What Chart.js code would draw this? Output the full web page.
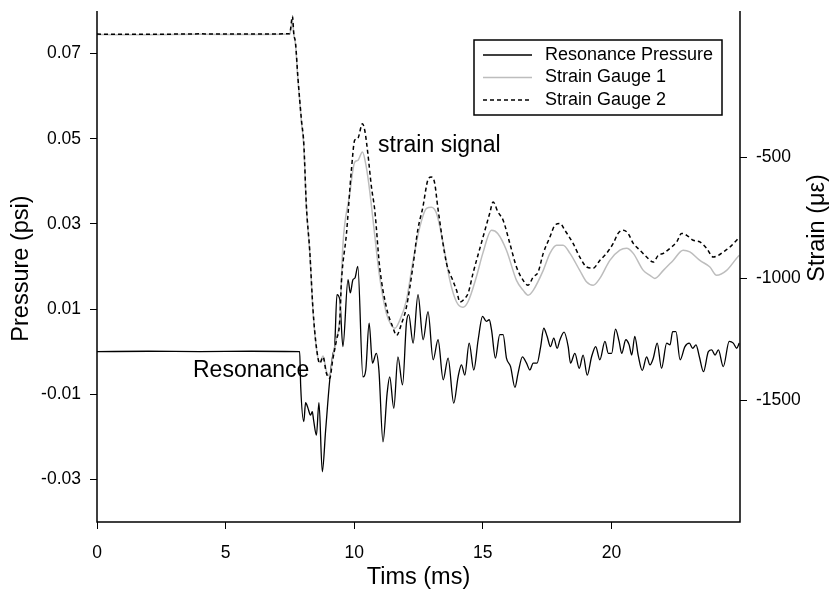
<!DOCTYPE html>
<html>
<head>
<meta charset="utf-8">
<script src="https://cdn.jsdelivr.net/npm/chart.js@4"></script>
<style>
  body { margin: 0; background: #fff; }
  #wrap { width: 832px; height: 595px; }
</style>
</head>
<body>
<div id="wrap"><canvas id="chart" width="832" height="595"></canvas></div>
<script>
// axis ticks
const timeTicks = [0, 5, 10, 15, 20];
const pressureTicks = [-0.03, -0.01, 0.01, 0.03, 0.05, 0.07];
const strainTicks = [-1500, -1000, -500];

// Resonance Pressure (psi) vs time (ms)
const resTime = [0, 2, 4, 6, 7.88, 7.92, 8.04, 8.11, 8.20, 8.30, 8.37, 8.42, 8.53, 8.63, 8.76, 8.89, 9.05, 9.18, 9.24, 9.33,
  9.44, 9.56, 9.76, 9.85, 9.95, 10.03, 10.14, 10.34, 10.45, 10.58, 10.71, 10.86, 10.96, 11.12, 11.28, 11.38, 11.54, 11.70, 11.88, 12.03,
  12.12, 12.29, 12.48, 12.68, 12.87, 13.07, 13.26, 13.46, 13.65, 13.87, 14.04, 14.17, 14.30, 14.47, 14.65, 14.82, 14.99, 15.14, 15.25, 15.34,
  15.49, 15.66, 15.79, 15.92, 16.08, 16.25, 16.37, 16.54, 16.70, 16.83, 16.96, 17.11, 17.25, 17.37, 17.50, 17.63, 17.76, 17.89, 18.00, 18.16,
  18.32, 18.41, 18.58, 18.75, 18.90, 19.06, 19.23, 19.39, 19.55, 19.75, 19.88, 20.01, 20.16, 20.30, 20.40, 20.56, 20.69, 20.79, 20.91, 21.04,
  21.20, 21.37, 21.50, 21.63, 21.78, 21.95, 22.15, 22.28, 22.38, 22.51, 22.67, 22.86, 23.03, 23.16, 23.29, 23.42, 23.58, 23.77, 23.90, 24.03,
  24.16, 24.35, 24.58, 24.74, 24.87, 24.97];
const resPressure = [0, 0.0001, 0, 0.0001, 0, -0.0082, -0.0164, -0.0120, -0.0132, -0.0149, -0.0141, -0.0160, -0.0196, -0.0120, -0.0282, -0.0184, -0.0066, -0.0004, 0.0012, 0.0134,
  0.0122, 0.0012, 0.0169, 0.0138, 0.0169, 0.0173, 0.0200, -0.0059, -0.0043, 0.0067, -0.0027, -0.0004, -0.0043, -0.0212, -0.0098, -0.0059, -0.0133, -0.0012, -0.0078, 0.0067,
  0.0087, 0.0020, 0.0134, 0.0028, 0.0094, -0.0019, 0.0028, -0.0066, -0.0015, -0.0121, -0.0059, -0.0031, -0.0055, 0.0020, -0.0043, 0.0028, 0.0083, 0.0071, 0.0075, 0.0051,
  -0.0015, 0.0040, 0.0040, -0.0015, -0.0035, -0.0084, -0.0051, -0.0012, -0.0027, -0.0043, -0.0027, -0.0027, 0.0012, 0.0055, 0.0036, 0.0012, 0.0032, 0.0008, 0.0028, 0.0046,
  0.0012, -0.0027, -0.0004, -0.0039, -0.0008, -0.0055, -0.0012, 0.0012, -0.0019, 0.0024, -0.0004, -0.0004, 0.0053, 0.0024, -0.0004, 0.0028, 0.0016, -0.0008, 0.0036, -0.0008,
  -0.0044, -0.0012, -0.0031, -0.0015, 0.0020, -0.0039, 0.0020, 0.0016, 0.0047, 0.0047, -0.0019, 0.0012, 0.0020, 0.0008, 0.0016, -0.0012, -0.0047, 0.0000, 0.0004, -0.0008,
  0.0004, -0.0035, 0.0024, 0.0020, 0.0008, 0.0020];

// Strain Gauge 1 (microstrain)
const g1Time = [0, 2, 4, 6, 7.49, 7.60, 7.65, 7.72, 7.81, 7.95, 8.04, 8.14, 8.27, 8.40, 8.53, 8.66, 8.79, 8.92, 9.05, 9.16,
  9.31, 9.44, 9.56, 9.82, 10.02, 10.14, 10.32, 10.47, 10.60, 10.72, 10.99, 11.25, 11.45, 11.58, 11.77, 12.03, 12.29, 12.55, 12.81, 13.00,
  13.20, 13.46, 13.72, 13.98, 14.23, 14.42, 14.75, 15.00, 15.34, 15.58, 15.92, 16.31, 16.57, 16.76, 16.96, 17.35, 17.61, 17.87, 18.12, 18.39,
  18.77, 19.04, 19.29, 19.55, 19.94, 20.33, 20.59, 20.85, 21.24, 21.50, 21.69, 22.02, 22.40, 22.79, 23.05, 23.44, 23.83, 24.09, 24.48, 24.87,
  24.97];
const g1Strain = [3, 2, 4, 3, 5, 60, 5, -40, -180, -360, -455, -705, -890, -1135, -1285, -1345, -1318, -1380, -1400, -1330,
  -1245, -1160, -863, -657, -521, -514, -479, -541, -637, -747, -993, -1142, -1192, -1204, -1171, -1089, -925, -788, -711, -706,
  -731, -855, -1007, -1096, -1117, -1096, -993, -896, -801, -814, -883, -1007, -1048, -1068, -1048, -966, -896, -863, -863, -896,
  -966, -1014, -1027, -999, -925, -883, -875, -896, -966, -986, -999, -966, -925, -883, -890, -925, -952, -986, -966, -916,
  -904];

// Strain Gauge 2 (microstrain)
const g2Time = [0, 2, 4, 6, 7.49, 7.60, 7.65, 7.72, 7.81, 7.95, 8.04, 8.14, 8.27, 8.40, 8.53, 8.66, 8.79, 8.92, 9.05, 9.16,
  9.31, 9.44, 9.50, 9.70, 9.89, 10.02, 10.14, 10.32, 10.41, 10.53, 10.67, 10.80, 10.99, 11.25, 11.50, 11.65, 11.84, 12.03, 12.28, 12.47,
  12.67, 12.86, 13.00, 13.13, 13.25, 13.59, 13.83, 13.98, 14.11, 14.30, 14.43, 14.62, 15.01, 15.27, 15.40, 15.59, 15.79, 16.05, 16.31, 16.57,
  16.76, 16.96, 17.15, 17.35, 17.61, 17.80, 18.00, 18.19, 18.51, 18.77, 19.04, 19.29, 19.55, 19.81, 20.07, 20.26, 20.46, 20.65, 20.85, 21.11,
  21.37, 21.63, 21.82, 22.02, 22.28, 22.54, 22.73, 22.93, 23.18, 23.44, 23.70, 23.96, 24.16, 24.35, 24.61, 24.87, 24.97];
const g2Strain = [5, 4, 6, 5, 7, 78, 8, -33, -171, -349, -444, -699, -883, -1130, -1281, -1348, -1322, -1389, -1410, -1336,
  -1253, -1171, -1019, -814, -555, -431, -423, -363, -390, -485, -623, -719, -952, -1117, -1199, -1233, -1185, -1117, -952, -801,
  -706, -596, -582, -608, -707, -937, -1006, -1048, -1096, -1081, -1060, -978, -829, -731, -685, -726, -760, -855, -952, -1007,
  -1027, -993, -973, -896, -829, -781, -773, -801, -855, -911, -952, -957, -925, -896, -855, -814, -801, -814, -855, -883,
  -911, -932, -904, -896, -875, -849, -814, -822, -842, -849, -875, -911, -904, -890, -870, -842, -830];

const FONT = '"Liberation Sans", Arial, sans-serif';

function pairs(xs, ys) {
    return xs.map((x, i) => ({ x: x, y: ys[i] }));
}

const datasets = [
    {
        label: 'Strain Gauge 2',
        data: pairs(g2Time, g2Strain),
        yAxisID: 'y2',
        borderColor: '#000',
        borderWidth: 1.5,
        borderDash: [4, 3],
        order: 0
    },
    {
        label: 'Strain Gauge 1',
        data: pairs(g1Time, g1Strain),
        yAxisID: 'y2',
        borderColor: '#bdbdbd',
        borderWidth: 1.5,
        order: 1
    },
    {
        label: 'Resonance Pressure',
        data: pairs(resTime, resPressure),
        yAxisID: 'y',
        borderColor: '#000',
        borderWidth: 1.3,
        order: 2
    }
];

// axis lines, titles, annotations and the boxed legend
const extras = {
    id: 'extras',
    afterDraw(chart) {
        const ctx = chart.ctx;
        const area = chart.chartArea;
        ctx.save();

        // nothing hangs below the right end of the time axis
        ctx.fillStyle = '#fff';
        ctx.fillRect(area.right - 3, area.bottom + 1, 8, 12);

        ctx.strokeStyle = '#000';
        ctx.lineWidth = 1.5;
        ctx.beginPath();
        ctx.moveTo(area.left, area.top);
        ctx.lineTo(area.left, area.bottom);
        ctx.lineTo(area.right, area.bottom);
        ctx.lineTo(area.right, area.top);
        ctx.stroke();

        ctx.fillStyle = '#000';
        ctx.font = '23.5px ' + FONT;
        ctx.textAlign = 'center';
        ctx.textBaseline = 'middle';
        ctx.fillText('Tims (ms)', (area.left + area.right) / 2, 578);

        ctx.save();
        ctx.translate(22, (area.top + area.bottom) / 2 + 2);
        ctx.rotate(-Math.PI / 2);
        ctx.fillText('Pressure (psi)', 0, 0);
        ctx.restore();

        ctx.save();
        ctx.translate(818, 228);
        ctx.rotate(-Math.PI / 2);
        ctx.fillText('Strain (\u03bc\u03b5)', 0, 0);
        ctx.restore();

        ctx.font = '23px ' + FONT;
        ctx.textAlign = 'left';
        ctx.fillText('strain signal', 378, 146);
        ctx.fillText('Resonance', 193, 371);

        // legend
        ctx.fillStyle = '#fff';
        ctx.fillRect(474, 40, 248, 75);
        ctx.strokeStyle = '#000';
        ctx.lineWidth = 1.5;
        ctx.strokeRect(474, 40, 248, 75);
        const rows = [datasets[2], datasets[1], datasets[0]];
        ctx.font = '18px ' + FONT;
        rows.forEach((ds, i) => {
            const y = 55 + i * 22.5;
            ctx.beginPath();
            ctx.setLineDash(ds.borderDash || []);
            ctx.strokeStyle = ds.borderColor;
            ctx.lineWidth = ds.borderWidth;
            ctx.moveTo(483, y);
            ctx.lineTo(532, y);
            ctx.stroke();
            ctx.setLineDash([]);
            ctx.fillStyle = '#000';
            ctx.fillText(ds.label, 545, y);
        });
        ctx.restore();
    }
};

// tick marks only at the listed values
function tickColor(list) {
    return c => (c.tick && list.includes(c.tick.value)) ? '#000' : 'rgba(0,0,0,0)';
}

function axisStyle(list, extra) {
    return Object.assign({
        grid: { drawOnChartArea: false, drawTicks: true, tickLength: 7, color: tickColor(list), tickColor: tickColor(list), lineWidth: 1 },
        border: { display: false },
        afterBuildTicks: s => { s.ticks = list.map(v => ({ value: v })); }
    }, extra);
}

// drop the label padding so the plot box sits where the reference has it
function fixBox(s, w, h) {
    if (w) s.width = w;
    if (h) s.height = h;
    s.paddingTop = 0;
    s.paddingBottom = 0;
    s.paddingLeft = 0;
    s.paddingRight = 0;
}

new Chart(document.getElementById('chart').getContext('2d'), {
    type: 'line',
    data: { datasets: datasets },
    options: {
        responsive: false,
        animation: false,
        layout: { padding: { top: 11, left: 0, right: 0, bottom: 0 } },
        elements: {
            point: { radius: 0 },
            line: { cubicInterpolationMode: 'monotone', fill: false }
        },
        plugins: {
            legend: { display: false },
            tooltip: { enabled: false }
        },
        scales: {
            x: axisStyle(timeTicks, {
                type: 'linear',
                min: 0,
                max: 25,
                afterFit: s => fixBox(s, 0, 73),
                ticks: { color: '#000', font: { family: FONT, size: 17.5 }, padding: 14, maxRotation: 0, callback: v => String(v) }
            }),
            y: axisStyle(pressureTicks, {
                position: 'left',
                min: -0.04,
                max: 0.08,
                afterFit: s => fixBox(s, 97, 0),
                ticks: { color: '#000', font: { family: FONT, size: 17.5 }, padding: 9, callback: v => v.toFixed(2) }
            }),
            y2: axisStyle(strainTicks, {
                position: 'right',
                min: -2000,
                max: 100,
                afterFit: s => fixBox(s, 92, 0),
                ticks: { color: '#000', font: { family: FONT, size: 17.5 }, padding: 9, callback: v => String(v) }
            })
        }
    },
    plugins: [extras]
});
</script>
</body>
</html>
